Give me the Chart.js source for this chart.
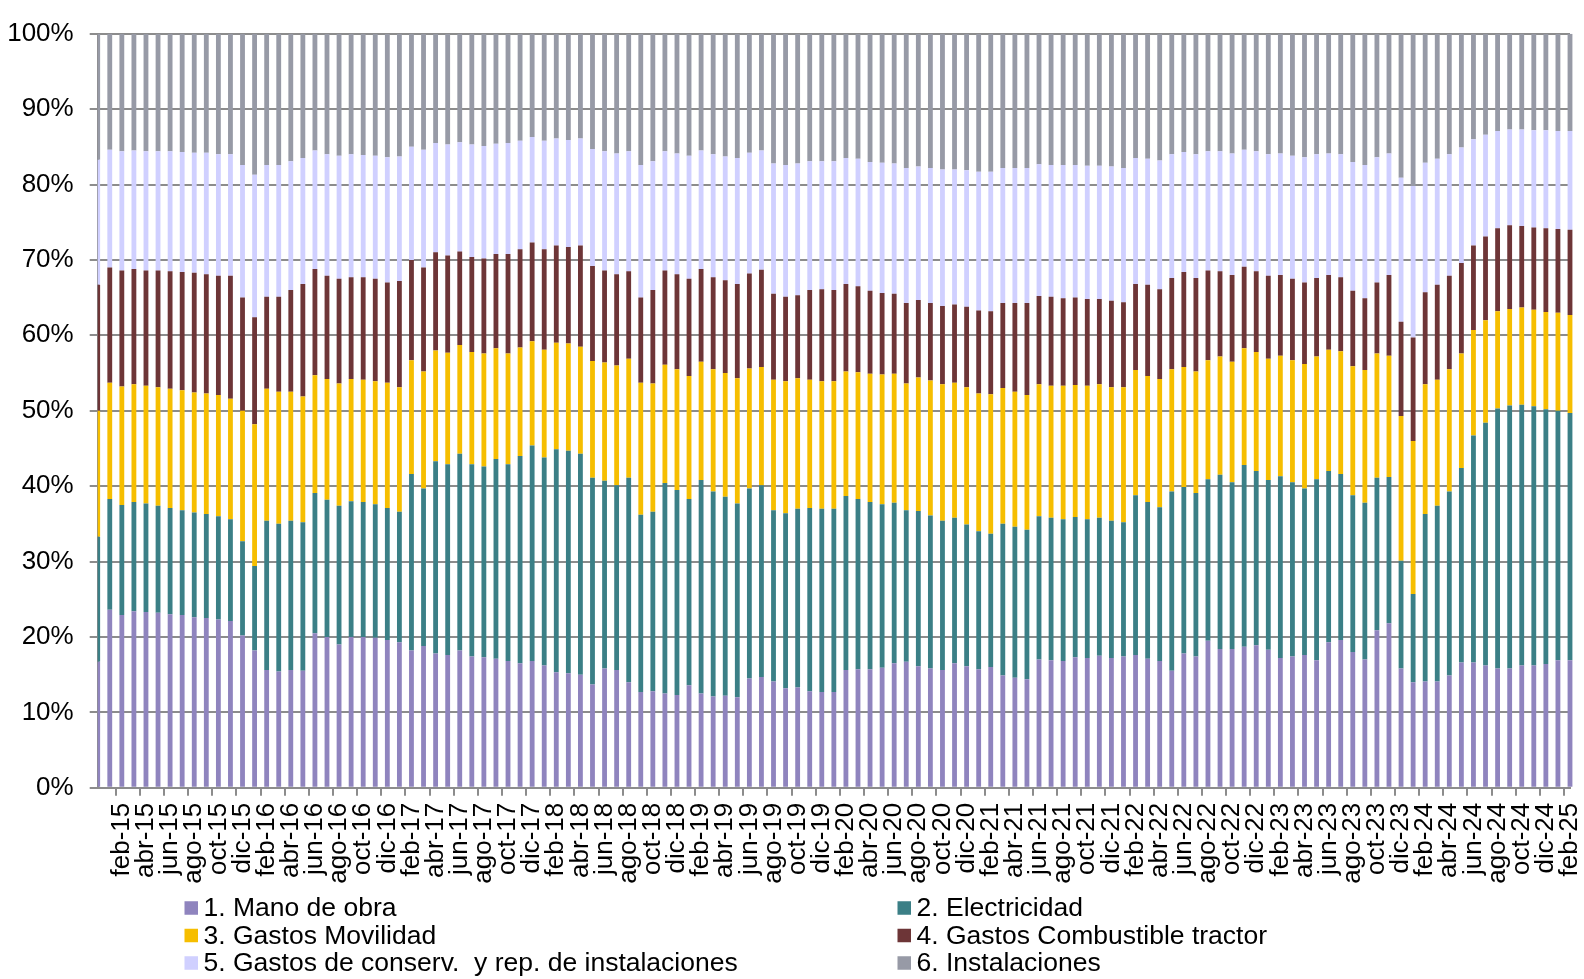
<!DOCTYPE html>
<html>
<head>
<meta charset="utf-8">
<script src="https://cdn.jsdelivr.net/npm/chart.js@4.4.1/dist/chart.umd.min.js"></script>
<style>
html,body{margin:0;padding:0;background:#fff;}
#wrap{position:relative;width:1584px;height:979px;}
</style>
</head>
<body>
<div id="wrap"><canvas id="c" width="1584" height="979"></canvas></div>
<script>
const categories = [
 'dic-14',
 'ene-15','feb-15','mar-15','abr-15','may-15','jun-15','jul-15','ago-15','sep-15','oct-15','nov-15','dic-15',
 'ene-16','feb-16','mar-16','abr-16','may-16','jun-16','jul-16','ago-16','sep-16','oct-16','nov-16','dic-16',
 'ene-17','feb-17','mar-17','abr-17','may-17','jun-17','jul-17','ago-17','sep-17','oct-17','nov-17','dic-17',
 'ene-18','feb-18','mar-18','abr-18','may-18','jun-18','jul-18','ago-18','sep-18','oct-18','nov-18','dic-18',
 'ene-19','feb-19','mar-19','abr-19','may-19','jun-19','jul-19','ago-19','sep-19','oct-19','nov-19','dic-19',
 'ene-20','feb-20','mar-20','abr-20','may-20','jun-20','jul-20','ago-20','sep-20','oct-20','nov-20','dic-20',
 'ene-21','feb-21','mar-21','abr-21','may-21','jun-21','jul-21','ago-21','sep-21','oct-21','nov-21','dic-21',
 'ene-22','feb-22','mar-22','abr-22','may-22','jun-22','jul-22','ago-22','sep-22','oct-22','nov-22','dic-22',
 'ene-23','feb-23','mar-23','abr-23','may-23','jun-23','jul-23','ago-23','sep-23','oct-23','nov-23','dic-23',
 'ene-24','feb-24','mar-24','abr-24','may-24','jun-24','jul-24','ago-24','sep-24','oct-24','nov-24','dic-24',
 'ene-25','feb-25'
];

const seriesNames = [
 '1. Mano de obra',
 '2. Electricidad',
 '3. Gastos Movilidad',
 '4. Gastos Combustible tractor',
 '5. Gastos de conserv.  y rep. de instalaciones',
 '6. Instalaciones'
];

const manoDeObra = [
 16.7,
 23.6,22.9,23.4,23.3,23.2,23.0,22.9,22.6,22.5,22.3,22.1,20.2,
 18.2,15.6,15.4,15.6,15.5,20.5,20.0,19.0,20.0,20.0,19.9,19.6,
 19.3,18.2,18.8,17.8,17.6,18.2,17.4,17.3,17.1,16.8,16.5,16.8,
 16.2,15.3,15.2,15.0,13.7,15.8,15.6,14.0,12.7,12.8,12.5,12.3,
 13.6,12.5,12.1,12.2,12.0,14.5,14.7,14.1,13.2,13.3,12.8,12.7,
 12.7,15.6,15.7,15.7,15.9,16.5,16.7,16.1,15.8,15.6,16.5,16.1,
 15.7,16.0,14.9,14.6,14.4,17.0,16.9,16.8,17.3,17.2,17.5,17.2,
 17.4,17.6,17.1,16.8,15.5,17.8,17.4,19.5,18.4,18.4,18.7,18.9,
 18.3,17.2,17.4,17.6,16.9,19.3,19.6,18.0,17.0,20.9,21.8,15.8,
 14.0,14.1,14.1,14.9,16.6,16.6,16.2,15.8,15.8,16.2,16.2,16.4,
 16.9,16.9
];
const electricidad = [
 16.6,
 14.7,14.6,14.5,14.4,14.2,14.1,13.9,13.9,13.8,13.7,13.5,12.5,
 11.2,19.8,19.6,19.8,19.7,18.6,18.2,18.4,18.0,17.9,17.7,17.5,
 17.3,23.4,20.9,25.5,25.3,26.1,25.5,25.3,26.5,26.1,27.5,28.6,
 27.6,29.6,29.5,29.3,27.4,24.9,24.5,27.1,23.5,23.8,27.9,27.2,
 24.7,28.3,27.2,26.4,25.7,25.2,25.4,22.7,23.2,23.7,24.3,24.3,
 24.3,23.1,22.6,22.2,21.7,21.3,20.1,20.6,20.3,19.8,19.3,18.8,
 18.3,17.7,20.1,20.0,19.8,19.0,18.9,18.8,18.6,18.4,18.3,18.2,
 17.8,21.2,20.8,20.4,23.8,22.1,21.7,21.4,23.1,22.1,24.1,23.1,
 22.5,24.1,23.1,22.1,24.0,22.7,22.0,20.8,20.8,20.2,19.4,14.3,
 11.7,22.2,23.3,24.4,25.8,30.1,32.2,34.5,34.9,34.6,34.4,33.8,
 33.1,32.8
];
const gastosMovilidad = [
 16.7,
 15.4,15.7,15.6,15.6,15.7,15.8,15.9,15.9,16.0,16.1,16.0,17.3,
 18.8,17.5,17.5,17.1,16.7,15.6,16.0,16.2,16.2,16.2,16.3,16.6,
 16.5,15.1,15.5,14.7,14.8,14.4,14.9,15.0,14.7,14.7,14.4,13.8,
 14.3,14.1,14.2,14.2,15.5,15.7,15.9,15.8,17.5,17.0,15.7,16.0,
 16.3,15.7,16.2,16.4,16.6,15.9,15.7,17.3,17.5,17.3,17.0,16.9,
 16.9,16.5,16.8,17.0,17.2,17.1,16.8,17.7,17.9,18.1,17.9,18.2,
 18.3,18.5,18.0,17.9,17.9,17.5,17.5,17.7,17.5,17.7,17.7,17.7,
 17.9,16.6,16.7,17.0,16.2,15.9,16.1,15.8,15.7,16.0,15.5,15.8,
 16.1,16.0,16.2,16.5,16.3,16.1,16.3,17.1,17.6,16.5,16.1,19.2,
 20.3,17.2,16.7,16.2,15.2,14.0,13.6,12.9,12.8,12.9,12.8,12.9,
 13.0,13.0
];
const combustibleTractor = [
 16.7,
 15.3,15.4,15.3,15.3,15.5,15.6,15.7,15.9,15.8,15.8,16.3,15.0,
 14.2,12.2,12.6,13.5,14.9,14.1,13.7,13.9,13.5,13.6,13.6,13.3,
 14.1,13.3,13.8,13.0,12.9,12.4,12.6,12.6,12.5,13.2,13.0,13.1,
 13.3,12.9,12.8,13.4,12.6,12.2,12.1,11.6,11.3,12.4,12.5,12.6,
 12.9,12.3,12.2,12.3,12.5,12.6,12.9,11.4,11.2,11.0,11.9,12.2,
 12.1,11.6,11.4,11.0,10.8,10.6,10.7,10.3,10.3,10.4,10.4,10.7,
 11.0,11.0,11.3,11.8,12.2,11.7,11.8,11.6,11.6,11.5,11.3,11.5,
 11.3,11.4,12.1,11.9,12.1,12.6,12.4,11.9,11.3,11.5,10.8,10.7,
 11.0,10.7,10.8,10.8,10.4,9.9,9.8,10.0,9.5,9.4,10.7,12.5,
 13.7,12.2,12.6,12.4,12.0,11.2,11.1,11.0,11.1,10.8,10.9,11.1,
 11.1,11.3
];
const conservInstalaciones = [
 16.6,
 15.6,15.8,15.7,15.8,15.8,15.9,15.9,15.9,16.1,16.1,16.1,17.6,
 18.9,17.5,17.5,17.1,16.7,15.7,16.1,16.3,16.3,16.2,16.3,16.6,
 16.5,15.0,15.6,14.5,14.7,14.5,14.9,14.9,14.6,14.7,14.4,14.0,
 14.4,14.2,14.2,14.2,15.5,15.8,16.0,15.9,17.6,17.1,15.8,16.0,
 16.3,15.7,16.3,16.4,16.7,16.0,15.8,17.3,17.5,17.5,17.1,17.0,
 17.1,16.7,16.9,17.1,17.3,17.3,17.9,17.7,17.9,18.1,17.9,18.1,
 18.4,18.5,17.9,17.9,17.9,17.5,17.5,17.7,17.6,17.7,17.7,17.8,
 17.8,16.7,16.7,17.1,16.4,15.9,16.4,15.8,15.9,16.1,15.5,15.9,
 16.1,16.1,16.3,16.6,16.4,16.1,16.3,17.1,17.7,16.6,16.1,19.1,
 20.1,17.2,16.7,16.1,15.3,14.1,13.5,12.9,12.7,12.8,12.9,13.0,
 13.0,13.1
];
const instalaciones = [
 16.7,
 15.4,15.6,15.5,15.6,15.6,15.6,15.7,15.8,15.8,16.0,16.0,17.4,
 18.7,17.4,17.4,16.9,16.5,15.5,16.0,16.2,16.0,16.1,16.2,16.4,
 16.3,15.0,15.4,14.5,14.7,14.4,14.7,14.9,14.6,14.5,14.2,13.7,
 14.2,13.9,14.1,13.9,15.3,15.6,15.9,15.6,17.4,16.9,15.6,15.9,
 16.2,15.5,16.0,16.3,16.5,15.8,15.5,17.2,17.4,17.2,16.9,16.9,
 16.9,16.5,16.6,17.0,17.1,17.2,17.8,17.6,17.8,18.0,18.0,18.1,
 18.3,18.3,17.8,17.8,17.8,17.3,17.4,17.4,17.4,17.5,17.5,17.6,
 17.8,16.5,16.6,16.8,16.0,15.7,16.0,15.6,15.6,15.9,15.4,15.6,
 16.0,15.9,16.2,16.4,16.0,15.9,16.0,17.0,17.4,16.4,15.9,19.1,
 20.2,17.1,16.6,16.0,15.1,14.0,13.4,12.9,12.7,12.7,12.8,12.8,
 12.9,12.9
];

const seriesColors = ['#8F84BE','#3B7F86','#F6BE00','#6D3537','#D0D0FF','#979AA6'];
const seriesValues = [manoDeObra, electricidad, gastosMovilidad, combustibleTractor, conservInstalaciones, instalaciones];

const FONT = "'Liberation Sans', Arial, sans-serif";
const GRID = '#8c8c8c';

const legendPlugin = {
  id: 'gridLegend',
  afterDraw(chart) {
    const ctx = chart.ctx;
    const cols = [{sq: 184.5, tx: 203.5}, {sq: 897.5, tx: 916.5}];
    const rows = [908, 935.5, 963];
    ctx.save();
    ctx.font = '26.5px ' + FONT;
    ctx.textBaseline = 'middle';
    ctx.textAlign = 'left';
    chart.data.datasets.forEach((ds, i) => {
      const c = cols[i % 2], r = rows[Math.floor(i / 2)];
      ctx.fillStyle = ds.backgroundColor;
      ctx.fillRect(c.sq, r - 6.75, 13.5, 13.5);
      ctx.fillStyle = '#000';
      ctx.fillText(ds.label, c.tx, r + 1);
    });
    ctx.restore();
  }
};

new Chart(document.getElementById('c'), {
  type: 'bar',
  data: {
    labels: categories,
    datasets: seriesNames.map((name, i) => ({
      label: name,
      data: seriesValues[i],
      backgroundColor: seriesColors[i],
      borderWidth: 0,
      barPercentage: 0.4,
      categoryPercentage: 1.0,
      clip: {left: 0, top: 0, right: false, bottom: 0}
    }))
  },
  options: {
    responsive: false,
    animation: false,
    devicePixelRatio: 1,
    layout: {padding: {left: 7, right: 14, top: 33.7, bottom: 88.3}},
    plugins: {legend: {display: false}, tooltip: {enabled: false}},
    scales: {
      x: {
        stacked: true,
        offset: false,
        afterFit: (s) => { s.paddingLeft = 0; s.paddingRight = 0; },
        grid: {
          display: true,
          drawOnChartArea: false,
          drawTicks: true,
          tickLength: 8,
          lineWidth: 2,
          color: (c) => (c.index % 2 === 0 ? GRID : 'rgba(0,0,0,0)')
        },
        border: {display: true, color: GRID, width: 2},
        ticks: {
          autoSkip: false,
          maxRotation: 90,
          minRotation: 90,
          padding: 7,
          color: '#000',
          font: {family: FONT, size: 26},
          callback: function(v, idx) {
            return (idx >= 2 && idx % 2 === 0) ? categories[idx] : '';
          }
        }
      },
      y: {
        stacked: true,
        min: 0,
        max: 100,
        afterFit: (s) => { s.width = 90.7; s.paddingTop = 0; },
        grid: {color: GRID, lineWidth: 2, tickLength: 8, drawTicks: true},
        border: {display: true, color: GRID, width: 2},
        ticks: {
          stepSize: 10,
          padding: 16,
          color: '#000',
          font: {family: FONT, size: 26},
          callback: (v) => v + '%'
        }
      }
    }
  },
  plugins: [legendPlugin]
});
</script>
</body>
</html>
